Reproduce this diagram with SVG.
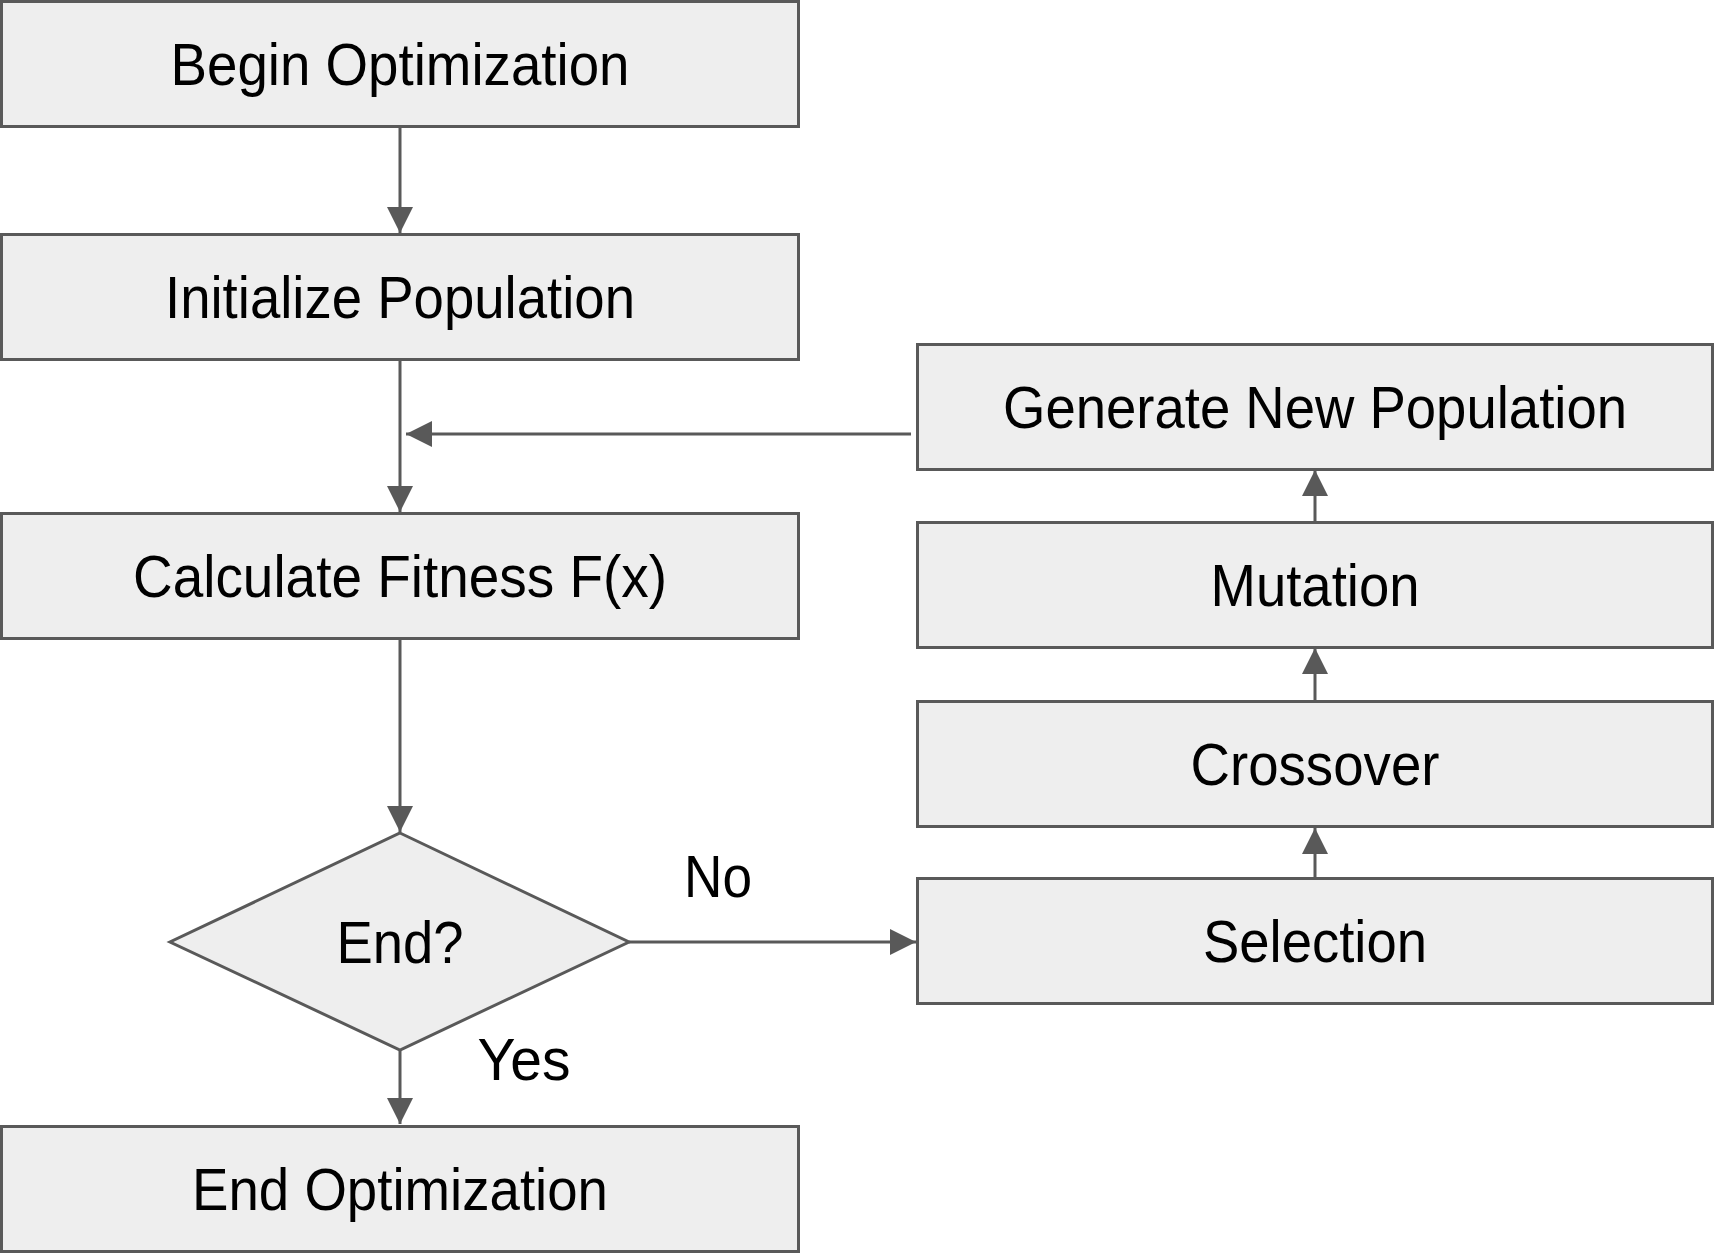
<svg xmlns="http://www.w3.org/2000/svg" width="1715" height="1256" viewBox="0 0 1715 1256">
<style>
.box{fill:#eeeeee;stroke:#595959;stroke-width:3}
.t{font-family:"Liberation Sans",Arial,sans-serif;font-size:59px;fill:#000;text-anchor:middle}
.c{stroke:#595959;stroke-width:3;fill:none;marker-end:url(#ah)}
</style>
<defs>
<marker id="ah" markerUnits="userSpaceOnUse" viewBox="0 0 26 26" refX="26" refY="13" markerWidth="26" markerHeight="26" orient="auto">
<path d="M0,0 L26,13 L0,26 Z" fill="#595959"/>
</marker>
</defs>
<rect width="1715" height="1256" fill="#ffffff"/>
<g id="connectors">
<line class="c" x1="400" y1="127" x2="400" y2="233"/>
<line class="c" x1="400" y1="360" x2="400" y2="512"/>
<line class="c" x1="911" y1="434" x2="406" y2="434"/>
<line class="c" x1="400" y1="640" x2="400" y2="832"/>
<line class="c" x1="629" y1="942" x2="916" y2="942"/>
<line class="c" x1="400" y1="1051" x2="400" y2="1124"/>
<line class="c" x1="1315" y1="877" x2="1315" y2="828"/>
<line class="c" x1="1315" y1="700" x2="1315" y2="648"/>
<line class="c" x1="1315" y1="521" x2="1315" y2="470"/>
</g>
<g id="begin">
<rect class="box" x="1.5" y="1.5" width="797" height="125"/>
<text class="t" x="400" y="85" textLength="459" lengthAdjust="spacingAndGlyphs">Begin Optimization</text>
</g>
<g id="initialize">
<rect class="box" x="1.5" y="234.5" width="797" height="125"/>
<text class="t" x="400" y="318" textLength="470" lengthAdjust="spacingAndGlyphs">Initialize Population</text>
</g>
<g id="calculate">
<rect class="box" x="1.5" y="513.5" width="797" height="125"/>
<text class="t" x="400" y="597" textLength="534" lengthAdjust="spacingAndGlyphs">Calculate Fitness F(x)</text>
</g>
<g id="decision">
<polygon class="box" points="400,833 629,942 400,1050 170,942"/>
<text class="t" x="400" y="963" textLength="127" lengthAdjust="spacingAndGlyphs">End?</text>
</g>
<g id="end">
<rect class="box" x="1.5" y="1126.5" width="797" height="125"/>
<text class="t" x="400" y="1210" textLength="416" lengthAdjust="spacingAndGlyphs">End Optimization</text>
</g>
<g id="generate">
<rect class="box" x="917.5" y="344.5" width="795" height="125"/>
<text class="t" x="1315" y="428" textLength="624" lengthAdjust="spacingAndGlyphs">Generate New Population</text>
</g>
<g id="mutation">
<rect class="box" x="917.5" y="522.5" width="795" height="125"/>
<text class="t" x="1315" y="606" textLength="209" lengthAdjust="spacingAndGlyphs">Mutation</text>
</g>
<g id="crossover">
<rect class="box" x="917.5" y="701.5" width="795" height="125"/>
<text class="t" x="1315" y="785" textLength="249" lengthAdjust="spacingAndGlyphs">Crossover</text>
</g>
<g id="selection">
<rect class="box" x="917.5" y="878.5" width="795" height="125"/>
<text class="t" x="1315" y="962" textLength="224" lengthAdjust="spacingAndGlyphs">Selection</text>
</g>
<g id="labels">
<text class="t" x="718" y="897" textLength="68" lengthAdjust="spacingAndGlyphs">No</text>
<text class="t" x="524" y="1080" textLength="93" lengthAdjust="spacingAndGlyphs">Yes</text>
</g>
</svg>
